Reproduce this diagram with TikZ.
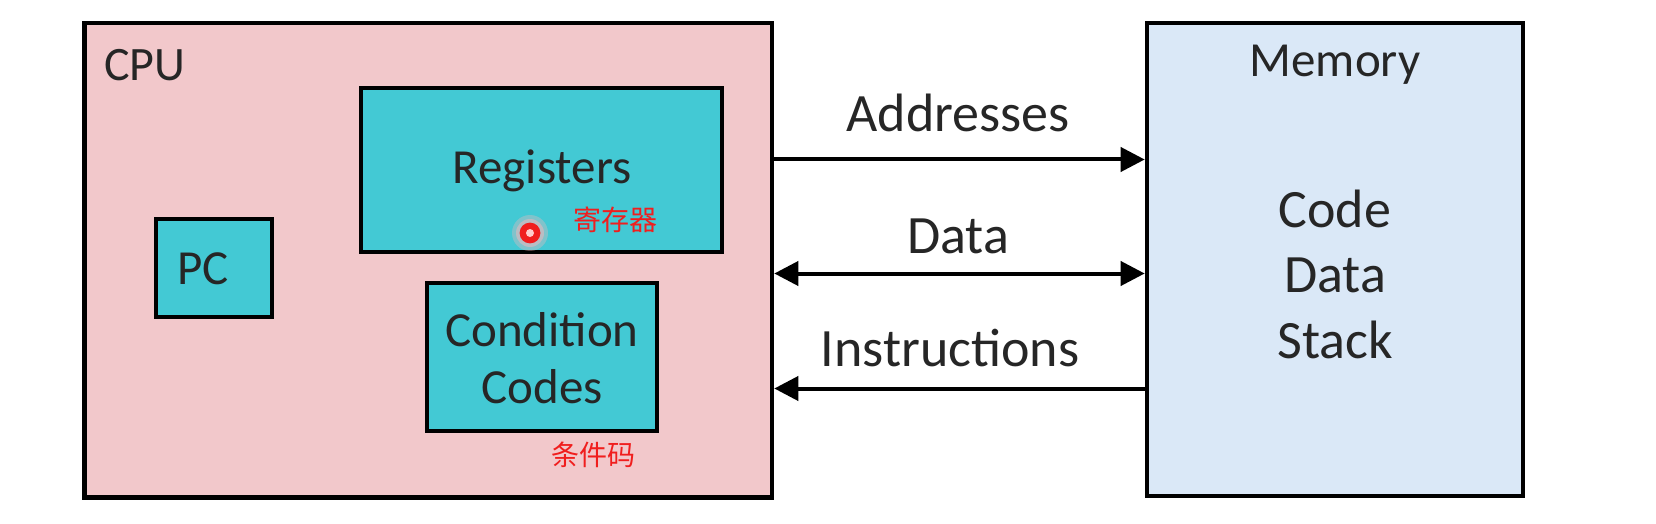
\documentclass[tikz,border=0pt]{standalone}
\usepackage{fontspec}
\setmainfont{Carlito}
\newfontfamily\cjk{Noto Sans CJK SC}
\usetikzlibrary{arrows.meta}
\definecolor{cpupink}{HTML}{F2C8CB}
\definecolor{regteal}{HTML}{43C9D4}
\definecolor{memblue}{HTML}{DAE8F7}
\definecolor{notered}{HTML}{F01E1E}
\definecolor{glowpink}{HTML}{F4B8BC}
\tikzset{
  unitbox/.style={draw=black, line width=2.3pt, inner sep=0pt, rectangle},
  tealbox/.style={unitbox, fill=regteal},
  biglabel/.style={font=\fontsize{27}{28.5}\selectfont, text=black!85, inner sep=0pt},
  boxlabel/.style={font=\fontsize{24.5}{28.5}\selectfont, text=black!85, inner sep=0pt},
  titlelabel/.style={font=\fontsize{24.5}{26}\selectfont, text=black!85, inner sep=0pt},
  cnlabel/.style={font=\cjk\fontsize{14}{15}\selectfont, text=notered, inner sep=0pt},
  bus/.style={line width=2pt, -{Triangle[length=12pt,width=12pt]}},
  busboth/.style={line width=2pt, {Triangle[length=12pt,width=12pt]}-{Triangle[length=12pt,width=12pt]}},
}
\begin{document}
\begin{tikzpicture}[x=0.5pt,y=-0.5pt]
\useasboundingbox[fill=white] (0,0) rectangle (1656,524);
% boxes
\node[unitbox, fill=cpupink, minimum width=343.75pt, minimum height=237.25pt] (cpu) at (428.25,260.25) {};
\node[unitbox, fill=memblue, minimum width=188pt, minimum height=236.5pt] (mem) at (1335,259.5) {};
\node[tealbox, minimum width=180.5pt, minimum height=82pt] (reg) at (541.5,170) {};
\node[tealbox, minimum width=58pt, minimum height=49pt] (pc) at (214,268) {};
\node[tealbox, minimum width=115pt, minimum height=74pt] (cc) at (542,357) {};
% labels
\node[titlelabel, font=\fontsize{24}{26}\selectfont] (cpulbl) at (145,65) {CPU};
\node[titlelabel] (memlbl) at (1335,65) {Memory};
\node[boxlabel] (reglbl) at (542,171) {Registers};
\node[boxlabel] (pclbl) at (203,269) {PC};
\node[boxlabel, align=center] (cclbl) at (542,358) {Condition\\Codes};
\node[biglabel, align=center, font=\fontsize{27}{32.75}\selectfont] (memcontent) at (1335,274) {Code\\Data\\Stack};
% buses
\coordinate (ya) at (0,159.5);
\coordinate (yd) at (0,273.5);
\coordinate (yi) at (0,388.5);
\draw[bus] (cpu.east |- ya) -- (mem.west |- ya);
\draw[busboth] (cpu.east |- yd) -- (mem.west |- yd);
\draw[bus] (mem.west |- yi) -- (cpu.east |- yi);
\node[biglabel] (addrlbl) at (958,113) {Addresses};
\node[biglabel] (datalbl) at (958,236) {Data};
\node[biglabel] (instrlbl) at (950,348) {Instructions};
% annotations
\node[cnlabel] (regcn) at (615,220) {寄存器};
\node[cnlabel] (cccn) at (593,455) {条件码};
% cursor dot
\fill[glowpink, opacity=0.35] (530,233) circle (9pt);
\fill[glowpink, opacity=0.5] (530,233) circle (7pt);
\fill[notered] (530,233) circle (5.2pt);
\fill[white!80!red] (530,233) circle (2pt);
\end{tikzpicture}
\end{document}
